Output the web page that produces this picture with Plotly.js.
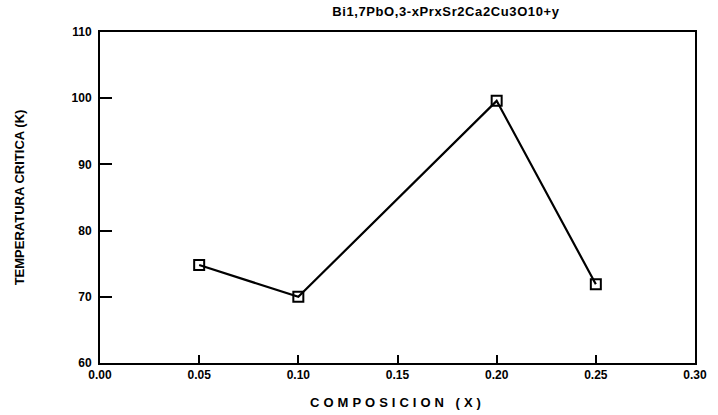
<!DOCTYPE html>
<html>
<head>
<meta charset="utf-8">
<script src="https://cdn.plot.ly/plotly-3.0.1.min.js"></script>
<style>
  html, body { margin: 0; padding: 0; background: #fff; }
  #chart { width: 718px; height: 415px; }
  .xtitle { letter-spacing: 4px; }
  .gtitle { letter-spacing: 0.6px; }
</style>
</head>
<body>
<div id="chart"></div>
<script>
// Critical temperature vs. Pr composition
const composition = [0.05, 0.10, 0.20, 0.25];
const criticalTemp = [74.8, 70.0, 99.6, 71.9];
const xTickVals = [0.00, 0.05, 0.10, 0.15, 0.20, 0.25, 0.30];
const xTickText = ['0.00', '0.05', '0.10', '0.15', '0.20', '0.25', '0.30'];
const yTickVals = [60, 70, 80, 90, 100, 110];

const font = 'Liberation Sans, Arial, sans-serif';

const trace = {
  x: composition,
  y: criticalTemp,
  mode: 'lines+markers',
  type: 'scatter',
  line: { color: '#000', width: 2.2 },
  marker: { symbol: 'square-open', size: 10, color: '#000', line: { width: 2, color: '#000' } },
  cliponaxis: false,
  hoverinfo: 'skip'
};

const layout = {
  width: 718,
  height: 415,
  margin: { l: 100, r: 23, t: 32, b: 52 },
  paper_bgcolor: '#fff',
  plot_bgcolor: '#fff',
  showlegend: false,
  title: {
    text: 'Bi1,7PbO,3-xPrxSr2Ca2Cu3O10+y',
    font: { family: font, size: 13, color: '#000', weight: 'bold' },
    x: 0.621, xanchor: 'center', y: 0.972, yanchor: 'middle'
  },
  xaxis: {
    range: [0, 0.30],
    tickvals: xTickVals,
    ticktext: xTickText,
    ticks: 'inside', ticklen: 8, tickwidth: 2, tickcolor: '#000',
    showline: true, linecolor: '#000', linewidth: 2, mirror: true,
    showgrid: false, zeroline: false,
    tickfont: { family: font, size: 12, color: '#000', weight: 'bold' },
    title: { text: 'COMPOSICION (X)', font: { family: font, size: 13, color: '#000', weight: 'bold' }, standoff: 16 }
  },
  yaxis: {
    range: [60, 110],
    tickvals: yTickVals,
    ticks: 'inside', ticklen: 12, tickwidth: 2, tickcolor: '#000',
    showline: true, linecolor: '#000', linewidth: 2, mirror: true,
    showgrid: false, zeroline: false,
    ticklabelstandoff: 4,
    tickfont: { family: font, size: 12, color: '#000', weight: 'bold' },
    title: { text: 'TEMPERATURA CRITICA (K)', font: { family: font, size: 13, color: '#000', weight: 'bold' }, standoff: 44 }
  }
};

Plotly.newPlot('chart', [trace], layout, { displayModeBar: false, staticPlot: true });
</script>
</body>
</html>
